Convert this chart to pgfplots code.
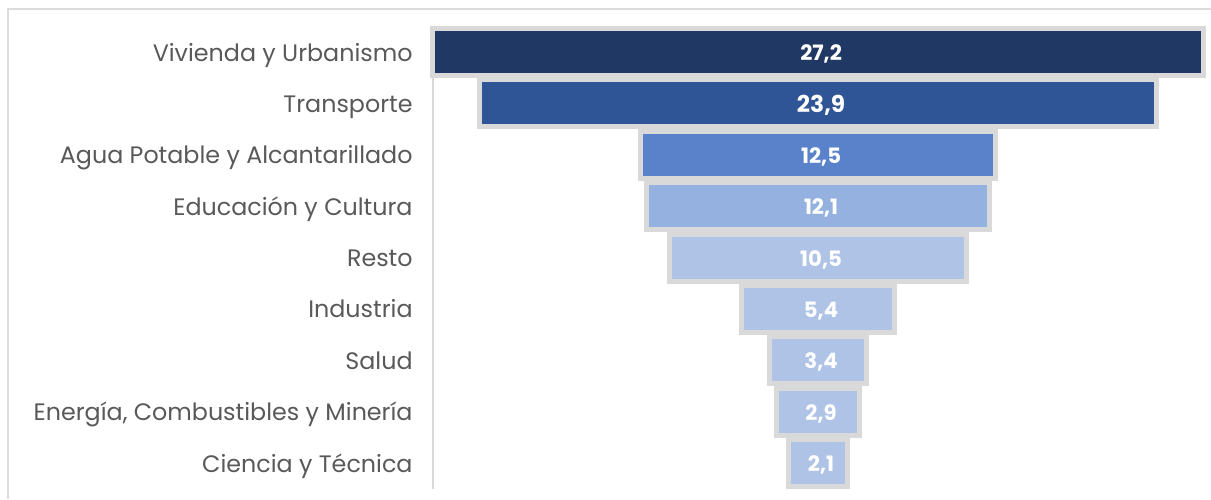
\documentclass[border=0pt]{standalone}
\usepackage{pgfplots}
\pgfplotsset{compat=1.18}
\usepackage{fontspec}
\setmainfont{Poppins}
\definecolor{cA}{HTML}{203864}
\definecolor{cB}{HTML}{2F5597}
\definecolor{cC}{HTML}{5A82CA}
\definecolor{cD}{HTML}{95B1DF}
\definecolor{cE}{HTML}{AEC3E6}
\definecolor{edge}{HTML}{D9D9D9}
\definecolor{frame}{HTML}{DCDCDC}
\definecolor{lbl}{HTML}{595959}
\pgfplotsset{
  funnel/.style={
    at={(216.25pt,5.15pt)}, anchor=south west,
    scale only axis, width=389.25pt, height=231.2pt,
    xmin=0, xmax=27.46, ymin=-0.5, ymax=8.5, y dir=reverse,
    clip=false,
  },
  funnelbars/.style={funnel, hide axis, xbar stacked, bar width=23.5pt},
  fbar/.style={fill=#1, draw=edge, line width=2.5pt},
  off/.style={draw=none, fill=none},
  vals/.style={draw=none, nodes near coords, point meta=explicit symbolic,
    every node near coord/.append style={anchor=mid, text=white, xshift=1.5pt, yshift=-1.6pt,
      font=\bfseries\fontsize{#1}{12}\selectfont}},
}
\begin{document}
\begin{tikzpicture}
\path[use as bounding box] (0,0) rectangle (605.5pt,249.5pt);
\draw[frame, line width=0.75pt] (605.5pt,245pt) -- (4pt,245pt) -- (4pt,0pt);
\begin{axis}[funnel,
  axis x line=none, axis y line*=left,
  axis line style={-, draw=edge, line width=1pt},
  xtick=\empty, ytick={0,...,8}, major tick length=0pt,
  yticklabels={Vivienda y Urbanismo, Transporte, Agua Potable y Alcantarillado, Educación y Cultura, Resto, Industria, Salud, {Energía, Combustibles y Minería}, Ciencia y Técnica},
  yticklabel style={anchor=mid east, inner sep=0pt, xshift=-9.75pt, yshift=-1.8pt, font=\fontsize{11.9}{14}\selectfont, text=lbl},
]
\addplot[draw=none] coordinates {(0,0) (0,8)};
\end{axis}
% Vivienda y Urbanismo
\begin{axis}[funnelbars]
\addplot[off] coordinates {(0,0)};
\addplot[fbar=cA] coordinates {(27.2,0)};
\end{axis}
% Transporte
\begin{axis}[funnelbars]
\addplot[off] coordinates {(1.65,1)};
\addplot[fbar=cB] coordinates {(23.9,1)};
\end{axis}
% Agua Potable y Alcantarillado
\begin{axis}[funnelbars]
\addplot[off] coordinates {(7.35,2)};
\addplot[fbar=cC] coordinates {(12.5,2)};
\end{axis}
% Educacion y Cultura
\begin{axis}[funnelbars]
\addplot[off] coordinates {(7.55,3)};
\addplot[fbar=cD] coordinates {(12.1,3)};
\end{axis}
% Resto ... Ciencia y Tecnica
\begin{axis}[funnelbars]
\addplot[off] coordinates {(8.35,4) (10.9,5) (11.9,6) (12.15,7) (12.55,8)};
\addplot[fbar=cE] coordinates {(10.5,4) (5.4,5) (3.4,6) (2.9,7) (2.1,8)};
\end{axis}
% value labels
\begin{axis}[funnel, hide axis]
\addplot[vals=10.6] coordinates {(13.6,0) [27,2] (13.6,2) [12,5] (13.6,3) [12,1] (13.6,4) [10,5] (13.6,5) [5,4] (13.6,6) [3,4] (13.6,7) [2,9] (13.6,8) [2,1]};
\addplot[vals=11.6] coordinates {(13.6,1) [23,9]};
\end{axis}
\end{tikzpicture}
\end{document}
